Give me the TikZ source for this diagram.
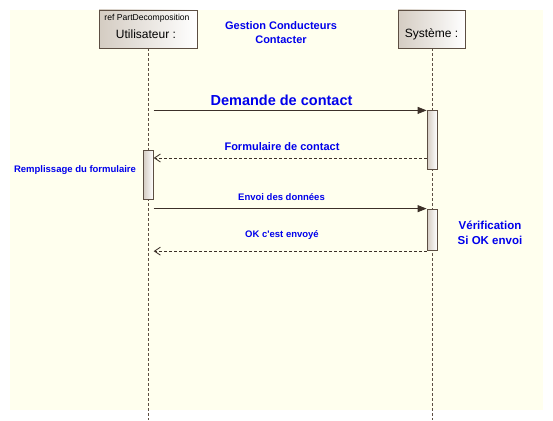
\documentclass[tikz,border=0pt]{standalone}
\usepackage{fontspec}
\setmainfont{Liberation Sans}[Ligatures=TeXOff]
\usetikzlibrary{arrows.meta}
\usetikzlibrary{positioning}

\begin{document}
\begin{tikzpicture}[x=1pt, y=-1pt, line width=0.8pt,
        part/.style={draw=edge,left color=shadel,right color=white,inner sep=0pt,minimum height=38pt},
        actbox/.style={draw=edge,left color=shadel,right color=white,inner sep=0pt,minimum width=10pt},
        life/.style={draw=edge,dash pattern=on 3pt off 2pt,line width=0.7pt},
        msg/.style={draw=wire,-{Triangle[length=9pt,width=7pt]}},
        ret/.style={draw=wire,dash pattern=on 3pt off 2pt,-{Straight Barb[length=6pt,width=8pt]}},
        lbl/.style={text=txtblue,font=\bfseries\fontsize{9.5}{11}\selectfont,inner sep=0pt}]
      \definecolor{bgc}{RGB}{255,255,238}
      \definecolor{edge}{RGB}{92,78,66}
      \definecolor{wire}{RGB}{60,48,40}
      \definecolor{shadel}{RGB}{212,204,194}
      \definecolor{txtblue}{RGB}{0,0,235}
      \useasboundingbox (0,0) rectangle (553,420);
      \fill[bgc] (10,10) rectangle (543,410);
      % participants and lifelines
      \node[part,minimum width=98pt] (usr) at (148,29) {};
      \node[part,minimum width=67pt] (sys) at (431.5,29) {};
      \node[font=\fontsize{8.6}{9}\selectfont,inner sep=0pt] (usrref) at (147,18) {ref PartDecomposition};
      \node[font=\fontsize{12}{14}\selectfont,inner sep=0pt] (usrname) at (146,34) {Utilisateur :};
      \node[font=\fontsize{12}{14}\selectfont,inner sep=0pt] (sysname) at (431.5,34) {Système :};
      \coordinate (usrend) at (148,420);
      \coordinate (sysend) at (432,420);
      \draw[life] (usr.south -| usrend) -- (usrend);
      \draw[life] (sys.south -| sysend) -- (sysend);
      % activations
      \node[actbox,minimum height=59pt] (act1) at (432,140.3) {};
      \node[actbox,minimum height=48.6pt] (act2) at (148.3,175) {};
      \node[actbox,minimum height=41.7pt] (act3) at (432,229.9) {};
      % messages
      \draw[msg] (act2.east |- act1.north) -- (act1.north west);
      \draw[ret] (act1.west |- 0,158) -- (act2.east |- 0,158);
      \draw[msg] (act2.east |- act3.north) -- (act3.north west);
      \draw[ret] (act3.south west) -- (act2.east |- act3.south);
      % texts
      \node[lbl,font=\bfseries\fontsize{11}{14}\selectfont,align=center] (title) at (281,32.5) {Gestion Conducteurs\\Contacter};
      \node[lbl,font=\bfseries\fontsize{14.5}{16}\selectfont] (demande) at (281.5,100) {Demande de contact};
      \node[lbl,font=\bfseries\fontsize{11}{13}\selectfont] (formu) at (282,147) {Formulaire de contact};
      \node[lbl] (rempl) at (75,170) {Remplissage du formulaire};
      \node[lbl] (envoi) at (281.5,197) {Envoi des données};
      \node[lbl] (okmsg) at (282,235) {OK c'est envoyé};
      \node[lbl,font=\bfseries\fontsize{11.5}{15}\selectfont,align=center] (verif) at (490,232.5) {Vérification\\Si OK envoi};
\end{tikzpicture}
\end{document}
